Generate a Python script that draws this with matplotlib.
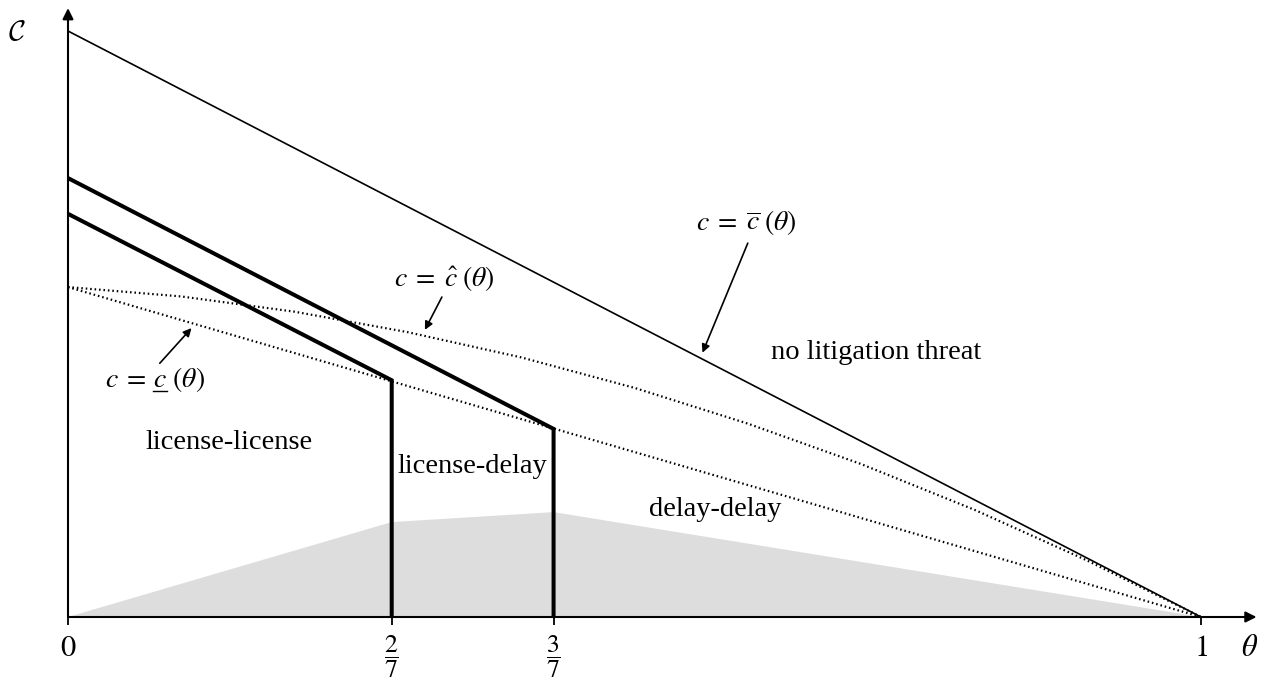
# Equilibrium regions in the (theta, c) plane

import matplotlib.pyplot as plt

# values
bar_theta = [0.0, 1.0]
bar_c     = [1.0, 0.0]            # c = c_bar(theta)

low_theta = [0.0, 1.0]
low_c     = [0.563, 0.0]          # c = c_underline(theta)

hat_theta = [0.0, 0.1, 0.2, 0.3, 0.4, 0.5, 0.6, 0.7, 0.8, 0.9, 1.0]
hat_c     = [0.563, 0.547, 0.521, 0.486, 0.443, 0.391, 0.330, 0.261, 0.183, 0.096, 0.0]   # c = c_hat(theta)

upper_theta = [0.0, 3 / 7, 3 / 7]
upper_c     = [0.749, 0.321, 0.0]

lower_theta = [0.0, 2 / 7, 2 / 7]
lower_c     = [0.688, 0.404, 0.0]

gray_theta = [0.0, 2 / 7, 3 / 7, 1.0]
gray_c     = [0.0, 0.162, 0.179, 0.0]

tick_pos    = [0, 2 / 7, 3 / 7, 1]
tick_labels = ['$0$', r'$\dfrac{2}{7}$', r'$\dfrac{3}{7}$', '$1$']


def draw():
    fig = plt.figure(figsize=(12.7, 6.81), dpi=100)
    ax = fig.add_axes([68 / 1270, 64 / 681, 1202 / 1270, 617 / 681])
    ax.set_xlim(0, 1202 / 1133)
    ax.set_ylim(0, 617 / 586)

    for s in ax.spines.values():
        s.set_visible(False)
    ax.set_yticks([])
    ax.set_xticks(tick_pos, tick_labels)
    ax.tick_params(axis='x', direction='out', length=6, width=1.3, pad=6)
    for lbl, size in zip(ax.get_xticklabels(), [22, 18.5, 18.5, 22]):
        lbl.set_fontsize(size)

    # axes with arrow heads
    arrow_kw = dict(arrowstyle='-|>', lw=1.5, color='black', mutation_scale=16, shrinkA=0, shrinkB=0)
    ax.annotate('', xy=(1.049, 0), xytext=(0, 0), arrowprops=arrow_kw, annotation_clip=False)
    ax.annotate('', xy=(0, 1.039), xytext=(0, 0), arrowprops=arrow_kw, annotation_clip=False)

    ax.fill(gray_theta, gray_c, color='#dddddd', lw=0, zorder=1)

    ax.plot(bar_theta, bar_c, color='black', lw=1.2, zorder=3)
    ax.plot(low_theta, low_c, color='black', lw=1.6, dashes=(0.7, 1.3), zorder=3)
    ax.plot(hat_theta, hat_c, color='black', lw=1.6, dashes=(0.7, 1.3), zorder=3)
    ax.plot(upper_theta, upper_c, color='black', lw=2.9, zorder=4, solid_joinstyle='miter')
    ax.plot(lower_theta, lower_c, color='black', lw=2.9, zorder=4, solid_joinstyle='miter')

    # labels with pointers
    pointer = dict(arrowstyle='-|>', lw=1.2, color='black', mutation_scale=12, shrinkA=0, shrinkB=0)
    ax.annotate('', xy=(0.560, 0.451), xytext=(0.600, 0.638), arrowprops=pointer)
    ax.annotate('', xy=(0.315, 0.490), xytext=(0.330, 0.546), arrowprops=pointer)
    ax.annotate('', xy=(0.109, 0.493), xytext=(0.081, 0.433), arrowprops=pointer)

    ax.text(0.599, 0.674, r'$c\;=\;\overline{c}\;(\theta)$', fontsize=20, ha='center', va='center')
    ax.text(0.332, 0.578, r'$c\;=\;\hat{c}\;(\theta)$', fontsize=20, ha='center', va='center')

    # mathtext has no \underline: write the label in three parts and rule the middle c by hand
    t_mid = ax.text(0.0812, 0.392, r'$c$', fontsize=20, ha='center', va='baseline')
    fig.canvas.draw()
    bb = t_mid.get_window_extent().transformed(ax.transData.inverted())
    ax.text(bb.x0 - 0.006, 0.392, r'$c\;=$', fontsize=20, ha='right', va='baseline')
    ax.text(bb.x1, 0.392, r'$\;(\theta)$', fontsize=20, ha='left', va='baseline')
    ax.plot([bb.x0, bb.x1], [0.385, 0.385], color='black', lw=1.0)

    ax.text(0.142, 0.297, 'license-license', fontsize=20.5, ha='center', va='center')
    ax.text(0.357, 0.256, 'license-delay', fontsize=20.5, ha='center', va='center')
    ax.text(0.571, 0.184, 'delay-delay', fontsize=20.5, ha='center', va='center')
    ax.text(0.713, 0.452, 'no litigation threat', fontsize=20.5, ha='center', va='center')

    ax.text(-0.045, 0.996, r'$\mathcal{C}$', fontsize=21, ha='center', va='center', math_fontfamily='cm')
    ax.text(1.043, -0.053, r'$\theta$', fontsize=22, ha='center', va='center')

    plt.savefig('out.png', dpi=100)


if __name__ == '__main__':
    plt.rcParams['font.family']      = ['Liberation Serif', 'DejaVu Serif']
    plt.rcParams['mathtext.fontset'] = 'stix'
    draw()
